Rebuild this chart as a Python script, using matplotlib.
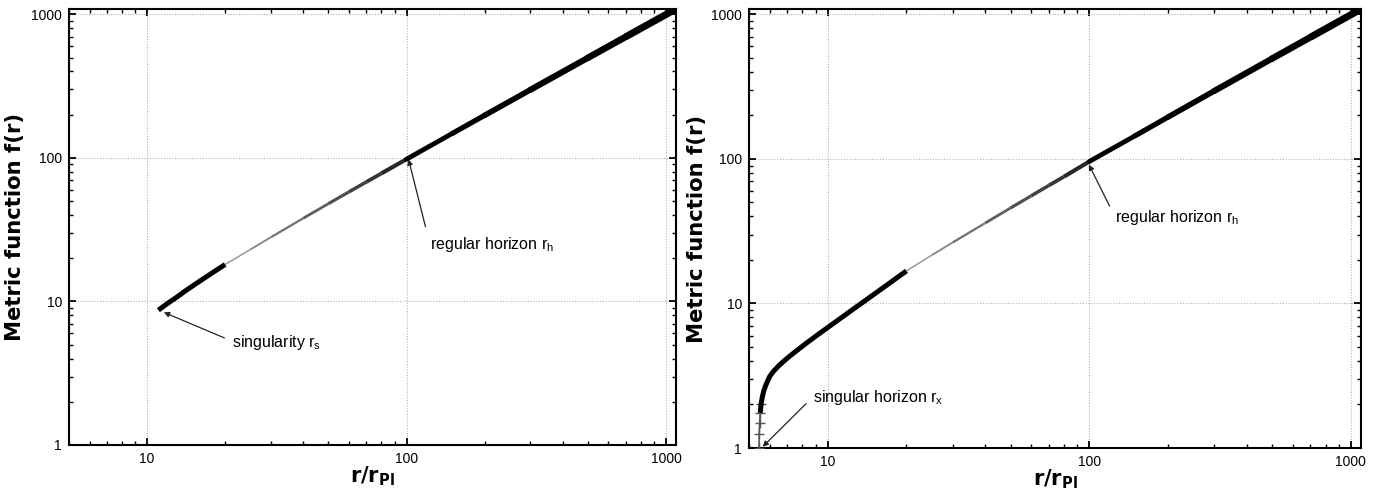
import numpy as np
import matplotlib
matplotlib.use("Agg")
import matplotlib.pyplot as plt
from matplotlib.ticker import FixedLocator, NullFormatter, LogLocator

# ---- data ----
left_r = [11.05, 12, 13, 14, 16, 18, 20, 25, 30, 40, 50, 60, 70, 80, 100, 150, 200, 300, 500, 700, 1100]
left_f = [8.7, 9.7, 10.7, 11.8, 13.9, 16.0, 18.1, 23, 28, 38, 48, 58, 68, 78, 98, 148, 198, 298, 498, 698, 1098]

right_r = [5.46, 5.47, 5.49, 5.52, 5.56, 5.62, 5.7, 5.8, 5.9, 6.0, 6.2, 6.45, 6.75, 7.1, 7.6, 8.2, 9.0,
           10, 11, 12.5, 15, 17.5, 20,
           25, 30, 40, 50, 60, 70, 80, 100, 150, 200, 300, 500, 700, 1100]
right_f = [1.0, 1.25, 1.5, 1.75, 2.0, 2.25, 2.5, 2.73, 2.92, 3.13, 3.39, 3.66, 3.95, 4.27, 4.71, 5.24, 5.94,
           6.82, 7.72, 9.12, 11.55, 14.11, 16.8,
           21.6, 26.4, 36, 45.8, 55.6, 65.5, 75.4, 96, 145, 195, 295, 495, 695, 1095]

x_ticks = [10, 100, 1000]
y_ticks = [1, 10, 100, 1000]
tick_labels_x = ["10", "100", "1000"]
tick_labels_y = ["1", "10", "100", "1000"]

plt.rcParams['font.family'] = ['Liberation Sans', 'DejaVu Sans']
plt.rcParams['mathtext.fontset'] = 'dejavusans'
NARROW = ['Liberation Sans Narrow', 'Liberation Sans', 'DejaVu Sans']

fig = plt.figure(figsize=(13.85, 4.93), dpi=100)
axL = fig.add_axes([69/1385, 48/493, 607/1385, 436/493])
axR = fig.add_axes([749/1385, 45/493, 612/1385, 439/493])


def draw_curve(ax, r, f):
    r = np.asarray(r, float)
    f = np.asarray(f, float)
    # sparse near-vertical start: visible individual '+' markers
    steep = f <= 2.0
    if steep.sum() > 1:
        ax.plot(r[steep], f[steep], color='#555555', lw=1.2, marker='+', ms=7, mew=1.0, zorder=3)
    low = (r <= 20) & (f >= 1.75)
    ax.plot(r[low], f[low], color='black', lw=3.6, solid_capstyle='butt',
            solid_joinstyle='round', zorder=3)
    for i in range(len(r) - 1):
        mid = np.sqrt(r[i] * r[i + 1])
        if mid < 20:
            continue
        elif mid < 100:
            t = np.log(mid / 20) / np.log(5)
            lw = 0.9 + 2.2 * t
            g = 0.62 * (1 - t) + 0.12 * t
            col = (g, g, g)
            cap = 'butt'
        else:
            lw = 3.3 + 1.9 * np.log10(mid / 100)
            col = 'black'
            cap = 'round' if r[i + 1] < r[-1] else 'butt'
        ax.plot(r[i:i + 2], f[i:i + 2], color=col, lw=lw, solid_capstyle=cap, zorder=3)


def style(ax, ylab_x):
    ax.set_xscale('log')
    ax.set_yscale('log')
    ax.set_xlim(5, 1093)
    ax.set_ylim(1, 1090)
    ax.xaxis.set_major_locator(FixedLocator(x_ticks))
    ax.yaxis.set_major_locator(FixedLocator(y_ticks))
    ax.set_xticklabels(tick_labels_x)
    ax.set_yticklabels(tick_labels_y)
    ax.xaxis.set_minor_locator(LogLocator(base=10, subs=np.arange(2, 10)))
    ax.yaxis.set_minor_locator(LogLocator(base=10, subs=np.arange(2, 10)))
    ax.xaxis.set_minor_formatter(NullFormatter())
    ax.yaxis.set_minor_formatter(NullFormatter())
    ax.tick_params(which='both', direction='in', top=True, right=True, labelsize=10, colors='black')
    ax.tick_params(which='major', length=5, width=1.3, pad=5)
    ax.tick_params(which='minor', length=3, width=1.0)
    for s in ax.spines.values():
        s.set_linewidth(1.5)
    ax.grid(True, which='major', linestyle=(0, (1, 1.5)), color='#b0b0b0', lw=0.8)
    ax.set_axisbelow(True)
    ax.set_xlabel(r'$\mathbf{r/r_{Pl}}$', fontsize=15)
    ax.xaxis.set_label_coords(0.5, -0.045)
    ax.set_ylabel('Metric function f(r)', fontsize=15.2, fontweight='bold',
                  family=['DejaVu Sans'])
    ax.yaxis.set_label_coords(ylab_x, 0.5)


style(axL, -0.073)
style(axR, -0.068)
draw_curve(axL, left_r, left_f)
draw_curve(axR, right_r, right_f)

arrow = dict(arrowstyle='-|>', color='#222222', lw=0.9, mutation_scale=8,
             shrinkA=4, shrinkB=0, relpos=(0, 0.55))

axL.annotate('singularity r$_\\mathregular{s}$', xy=(11.6, 8.4), xytext=(21.3, 5.2),
             fontsize=11.5, family=NARROW, va='center', ha='left', arrowprops=arrow)
axL.annotate('regular horizon r$_\\mathregular{h}$', xy=(101.8, 97.8), xytext=(122.7, 25.1),
             fontsize=11.5, family=NARROW, va='center', ha='left', arrowprops=arrow)
axR.annotate('regular horizon r$_\\mathregular{h}$', xy=(99.6, 91.5), xytext=(125.2, 39.3),
             fontsize=11.5, family=NARROW, va='center', ha='left', arrowprops=arrow)
axR.annotate('singular horizon r$_\\mathregular{x}$', xy=(5.64, 1.02), xytext=(8.77, 2.22),
             fontsize=11.5, family=NARROW, va='center', ha='left', arrowprops=arrow)

fig.savefig('out.png', dpi=100)
